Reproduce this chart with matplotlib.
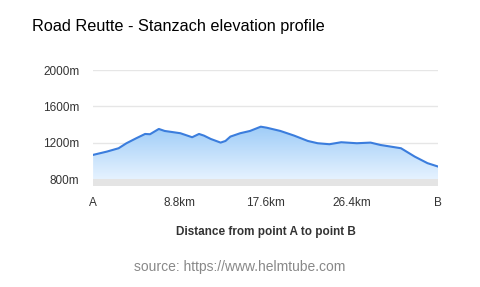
import numpy as np
import matplotlib.pyplot as plt
from matplotlib.patches import Polygon

plt.rcParams['font.family'] = ['Liberation Sans', 'DejaVu Sans']

# distance (km) and elevation (m)
dist = [0.0, 0.7, 1.4, 2.6, 3.4, 4.4, 5.3, 5.8, 6.7, 7.3, 8.2, 8.9, 10.1, 10.8,
        11.3, 12.0, 13.0, 13.5, 14.0, 15.0, 16.0, 17.1, 17.7, 19.1, 20.5, 21.9,
        22.9, 24.1, 25.3, 26.9, 28.3, 29.3, 31.4, 32.8, 34.1, 35.2]
elev = [1067, 1085, 1103, 1140, 1195, 1250, 1297, 1294, 1352, 1330, 1316, 1305,
        1261, 1297, 1279, 1242, 1202, 1220, 1268, 1305, 1330, 1377, 1366, 1330,
        1279, 1220, 1195, 1184, 1206, 1195, 1202, 1176, 1140, 1048, 976, 938]

x_ticks = [0, 8.8, 17.6, 26.4, 35.2]
x_labels = ['A', '8.8km', '17.6km', '26.4km', 'B']
y_ticks = [800, 1200, 1600, 2000]
y_labels = ['800m', '1200m', '1600m', '2000m']

fig = plt.figure(figsize=(4.8, 2.87), dpi=100)
ax = fig.add_axes([0.194, 0.352, 0.719, 0.404])
ymin, ymax = 725, 2000
ax.set_xlim(0, 35.2)
ax.set_ylim(ymin, ymax)

for y in y_ticks:
    ax.axhline(y, color='#e6e6e6', lw=1, zorder=0)
ax.axhspan(ymin, 800, color='#e4e4e4', lw=0, zorder=0)

# gradient fill under the line
top = max(elev)
grad = np.linspace(0, 1, 256).reshape(-1, 1)
c_top = np.array([0.62, 0.80, 0.97])
c_bot = np.array([0.90, 0.95, 1.0])
img = c_bot + (c_top - c_bot) * grad
img = img.reshape(256, 1, 3)
im = ax.imshow(img, extent=[0, 35.2, 800, top], origin='lower', aspect='auto', zorder=1)
poly = Polygon(list(zip(dist, elev)) + [(dist[-1], 800), (dist[0], 800)],
               closed=True, facecolor='none', edgecolor='none')
ax.add_patch(poly)
im.set_clip_path(poly)
ax.plot(dist, elev, color='#3b7ddd', lw=1.5, zorder=3)

ax.set_xticks(x_ticks)
ax.set_xticklabels(x_labels)
ax.set_yticks(y_ticks)
ax.set_yticklabels(y_labels)
ax.tick_params(length=0, labelsize=8.5, colors='#333333')
ax.tick_params(axis='x', pad=8)
ax.tick_params(axis='y', pad=10)
for s in ax.spines.values():
    s.set_visible(False)
ax.set_xlabel('Distance from point A to point B', fontsize=8.5, fontweight='bold',
              color='#333333', labelpad=12)

fig.text(32 / 480, 1 - 27 / 287, 'Road Reutte - Stanzach elevation profile',
         fontsize=11.7, color='#000000', va='center', ha='left')
fig.text(240 / 480, 1 - 267 / 287, 'source: https://www.helmtube.com',
         fontsize=10, color='#888888', va='center', ha='center')

fig.savefig('out.png', dpi=100)
